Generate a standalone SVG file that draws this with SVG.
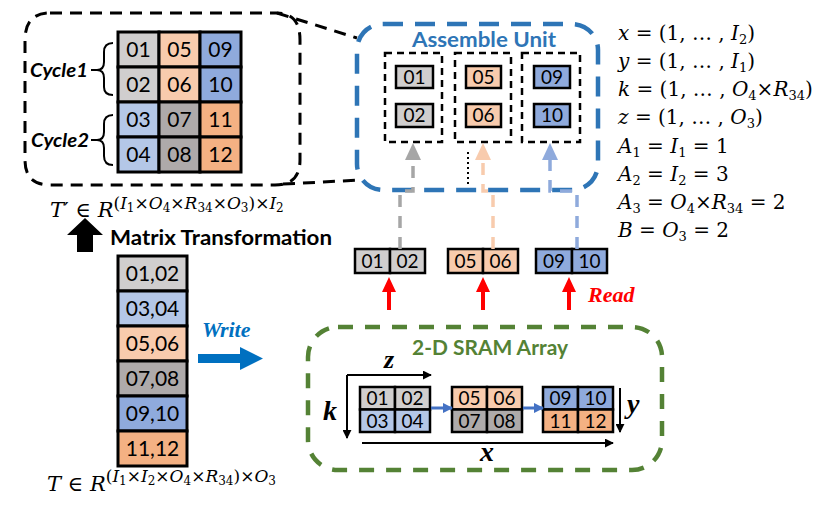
<svg xmlns="http://www.w3.org/2000/svg" width="830" height="513" viewBox="0 0 830 513">
<defs>
<marker id="ah" viewBox="0 0 10 10" refX="9" refY="5" markerWidth="4.5" markerHeight="4.5" orient="auto"><path d="M0,0 L10,5 L0,10 z" fill="#000"/></marker>
<marker id="ahb" viewBox="0 0 10 10" refX="9" refY="5" markerWidth="3.5" markerHeight="3.5" orient="auto"><path d="M0,0 L10,5 L0,10 z" fill="#4472C4"/></marker>
</defs>
<style>
.c{stroke:#000;stroke-width:3}
.cs{stroke:#000;stroke-width:2.5}
.n{font-family:Lato,"Liberation Sans",sans-serif;font-size:21px;text-anchor:middle;fill:#000}
.ns{font-family:Lato,"Liberation Sans",sans-serif;font-size:19px;text-anchor:middle;fill:#000}
.g1{fill:#D0CECE}.lb{fill:#B4C7E7}.lo{fill:#F8CBAD}.dg{fill:#AEAAAA}.bl{fill:#8FAADC}.or{fill:#F4B183}
.m{font-family:"DejaVu Serif","Liberation Serif",serif;font-size:20px;fill:#000}
.it{font-style:italic}
.sb{font-size:13px}
.sp{font-size:17px}
.ss{font-size:12px}
.lbl{font-family:Lato,"Liberation Sans",sans-serif;font-weight:bold}
.ax{font-family:"Liberation Serif",serif;font-weight:bold;font-style:italic;fill:#000}
.dbox{fill:none;stroke:#000;stroke-width:2.5;stroke-dasharray:7 5}
</style>

<g id="zoom-box">
<path d="M50,13 H277 Q300,13 300,40 V160 Q300,185 275,185 H50 Q25,185 25,160 V40 Q25,13 50,13 Z" fill="none" stroke="#000" stroke-width="3" stroke-dasharray="12 8"/>
<line x1="277" y1="13" x2="357" y2="38" stroke="#000" stroke-width="3" stroke-dasharray="12 8"/>
<line x1="283" y1="184" x2="362" y2="180" stroke="#000" stroke-width="3" stroke-dasharray="12 8"/>
</g>

<g id="cycle-grid">
<rect x="118" y="32" width="41" height="35" class="g1 c"/><rect x="159" y="32" width="41" height="35" class="lo c"/><rect x="200" y="32" width="41" height="35" class="bl c"/>
<rect x="118" y="67" width="41" height="35" class="g1 c"/><rect x="159" y="67" width="41" height="35" class="lo c"/><rect x="200" y="67" width="41" height="35" class="bl c"/>
<rect x="118" y="102" width="41" height="35" class="lb c"/><rect x="159" y="102" width="41" height="35" class="dg c"/><rect x="200" y="102" width="41" height="35" class="or c"/>
<rect x="118" y="137" width="41" height="35" class="lb c"/><rect x="159" y="137" width="41" height="35" class="dg c"/><rect x="200" y="137" width="41" height="35" class="or c"/>
<text class="n" x="138.5" y="57">01</text><text class="n" x="179.5" y="57">05</text><text class="n" x="220.5" y="57">09</text>
<text class="n" x="138.5" y="92">02</text><text class="n" x="179.5" y="92">06</text><text class="n" x="220.5" y="92">10</text>
<text class="n" x="138.5" y="127">03</text><text class="n" x="179.5" y="127">07</text><text class="n" x="220.5" y="127">11</text>
<text class="n" x="138.5" y="162">04</text><text class="n" x="179.5" y="162">08</text><text class="n" x="220.5" y="162">12</text>
</g>

<g id="cycle1">
<text class="lbl" x="30" y="77" font-size="19" font-style="italic" textLength="58" lengthAdjust="spacingAndGlyphs">Cycle1</text>
<path d="M113,43 Q104,43 104,52 V62 Q104,70 97,70 Q104,70 104,78 V87 Q104,95 113,95" fill="none" stroke="#000" stroke-width="2"/>
<line x1="91" y1="70" x2="98" y2="70" stroke="#000" stroke-width="2"/>
</g>
<g id="cycle2">
<text class="lbl" x="31" y="147" font-size="19" font-style="italic" textLength="58" lengthAdjust="spacingAndGlyphs">Cycle2</text>
<path d="M113,115 Q104,115 104,124 V132 Q104,140 97,140 Q104,140 104,148 V156 Q104,165 113,165" fill="none" stroke="#000" stroke-width="2"/>
<line x1="91" y1="140" x2="98" y2="140" stroke="#000" stroke-width="2"/>
</g>

<g id="t-prime">
<text class="m" x="50" y="217" font-size="21"><tspan class="it" font-size="21">T</tspan><tspan font-size="21">′ ∈ </tspan><tspan class="it" font-size="21">R</tspan><tspan class="sp" dy="-8">(</tspan><tspan class="sp it">I</tspan><tspan class="ss" dy="3">1</tspan><tspan class="sp" dy="-3">×</tspan><tspan class="sp it">O</tspan><tspan class="ss" dy="3">4</tspan><tspan class="sp" dy="-3">×</tspan><tspan class="sp it">R</tspan><tspan class="ss" dy="3">34</tspan><tspan class="sp" dy="-3">×</tspan><tspan class="sp it">O</tspan><tspan class="ss" dy="3">3</tspan><tspan class="sp" dy="-3">)×</tspan><tspan class="sp it">I</tspan><tspan class="ss" dy="3">2</tspan></text>
</g>

<g id="matrix-transformation">
<polygon points="85,218 103,235 93,235 93,252 77,252 77,235 67,235" fill="#000"/>
<text class="lbl" x="110" y="245" font-size="20" textLength="222" lengthAdjust="spacingAndGlyphs">Matrix Transformation</text>
</g>

<g id="column-t">
<rect x="118" y="256" width="69" height="35" class="g1 c"/>
<rect x="118" y="291" width="69" height="35" class="lb c"/>
<rect x="118" y="326" width="69" height="35" class="lo c"/>
<rect x="118" y="361" width="69" height="35" class="dg c"/>
<rect x="118" y="396" width="69" height="35" class="bl c"/>
<rect x="118" y="431" width="69" height="35" class="or c"/>
<text class="n" x="152.5" y="281">01,02</text>
<text class="n" x="152.5" y="316">03,04</text>
<text class="n" x="152.5" y="351">05,06</text>
<text class="n" x="152.5" y="386">07,08</text>
<text class="n" x="152.5" y="421">09,10</text>
<text class="n" x="152.5" y="456">11,12</text>
</g>

<g id="t-formula">
<text class="m" x="47" y="491" font-size="21"><tspan class="it" font-size="21">T</tspan><tspan font-size="21"> ∈ </tspan><tspan class="it" font-size="21">R</tspan><tspan class="sp" dy="-9">(</tspan><tspan class="sp it">I</tspan><tspan class="ss" dy="3">1</tspan><tspan class="sp" dy="-3">×</tspan><tspan class="sp it">I</tspan><tspan class="ss" dy="3">2</tspan><tspan class="sp" dy="-3">×</tspan><tspan class="sp it">O</tspan><tspan class="ss" dy="3">4</tspan><tspan class="sp" dy="-3">×</tspan><tspan class="sp it">R</tspan><tspan class="ss" dy="3">34</tspan><tspan class="sp" dy="-3">)×</tspan><tspan class="sp it">O</tspan><tspan class="ss" dy="3">3</tspan></text>
</g>

<g id="write">
<text x="202" y="337" font-family="Liberation Serif, serif" font-weight="bold" font-style="italic" font-size="22" fill="#0070C0">Write</text>
<polygon points="198,354 240,354 240,347 263,358.5 240,370 240,363 198,363" fill="#0070C0"/>
</g>

<g id="assemble-unit">
<rect x="357" y="24" width="241" height="166" rx="26" fill="none" stroke="#2E75B6" stroke-width="4.5" stroke-dasharray="20 12"/>
<text class="lbl" x="484" y="47" font-size="21" fill="#2E75B6" text-anchor="middle" textLength="144" lengthAdjust="spacingAndGlyphs">Assemble Unit</text>
<rect x="385" y="53" width="57" height="89" class="dbox"/>
<rect x="455" y="53" width="56" height="89" class="dbox"/>
<rect x="522" y="53" width="58" height="89" class="dbox"/>
<rect x="396" y="66" width="37" height="22" class="g1 cs"/><rect x="396" y="104" width="37" height="23" class="g1 cs"/>
<rect x="466" y="66" width="35" height="22" class="lo cs"/><rect x="466" y="104" width="35" height="23" class="lo cs"/>
<rect x="534" y="66" width="36" height="22" class="bl cs"/><rect x="534" y="104" width="36" height="23" class="bl cs"/>
<text class="ns" x="414.5" y="84">01</text><text class="ns" x="414.5" y="122">02</text>
<text class="ns" x="483.5" y="84">05</text><text class="ns" x="483.5" y="122">06</text>
<text class="ns" x="552" y="84">09</text><text class="ns" x="552" y="122">10</text>
</g>

<g id="formulas">
<text class="m" x="618" y="40"><tspan class="it">x</tspan> = (1, … , <tspan class="it">I</tspan><tspan class="sb" dy="4">2</tspan><tspan dy="-4">)</tspan></text>
<text class="m" x="618" y="68"><tspan class="it">y</tspan> = (1, … , <tspan class="it">I</tspan><tspan class="sb" dy="4">1</tspan><tspan dy="-4">)</tspan></text>
<text class="m" x="618" y="96"><tspan class="it">k</tspan> = (1, … , <tspan class="it">O</tspan><tspan class="sb" dy="4">4</tspan><tspan dy="-4">×</tspan><tspan class="it">R</tspan><tspan class="sb" dy="4">34</tspan><tspan dy="-4">)</tspan></text>
<text class="m" x="618" y="124"><tspan class="it">z</tspan> = (1, … , <tspan class="it">O</tspan><tspan class="sb" dy="4">3</tspan><tspan dy="-4">)</tspan></text>
<text class="m" x="618" y="153"><tspan class="it">A</tspan><tspan class="sb" dy="4">1</tspan><tspan dy="-4"> = </tspan><tspan class="it">I</tspan><tspan class="sb" dy="4">1</tspan><tspan dy="-4"> = 1</tspan></text>
<text class="m" x="618" y="181"><tspan class="it">A</tspan><tspan class="sb" dy="4">2</tspan><tspan dy="-4"> = </tspan><tspan class="it">I</tspan><tspan class="sb" dy="4">2</tspan><tspan dy="-4"> = 3</tspan></text>
<text class="m" x="618" y="209"><tspan class="it">A</tspan><tspan class="sb" dy="4">3</tspan><tspan dy="-4"> = </tspan><tspan class="it">O</tspan><tspan class="sb" dy="4">4</tspan><tspan dy="-4">×</tspan><tspan class="it">R</tspan><tspan class="sb" dy="4">34</tspan><tspan dy="-4"> = 2</tspan></text>
<text class="m" x="618" y="237"><tspan class="it">B</tspan> = <tspan class="it">O</tspan><tspan class="sb" dy="4">3</tspan><tspan dy="-4"> = 2</tspan></text>
</g>

<g id="read-buffers">
<rect x="355" y="249" width="35" height="24" class="g1 cs"/><rect x="390" y="249" width="35" height="24" class="g1 cs"/>
<rect x="448" y="249" width="35" height="24" class="lo cs"/><rect x="483" y="249" width="35" height="24" class="lo cs"/>
<rect x="536" y="249" width="36" height="24" class="bl cs"/><rect x="572" y="249" width="35" height="24" class="bl cs"/>
<text class="ns" x="372.5" y="268">01</text><text class="ns" x="407.5" y="268">02</text>
<text class="ns" x="465.5" y="268">05</text><text class="ns" x="500.5" y="268">06</text>
<text class="ns" x="554" y="268">09</text><text class="ns" x="589.5" y="268">10</text>
</g>

<g id="read">
<text x="588" y="302" font-family="Liberation Serif, serif" font-weight="bold" font-style="italic" font-size="22" fill="#FF0000">Read</text>
</g>

<g id="sram-array">
<rect x="308" y="327" width="354" height="143" rx="30" fill="none" stroke="#548235" stroke-width="4.5" stroke-dasharray="15 12"/>
<text class="lbl" x="412" y="355" font-size="20" fill="#548235" textLength="156" lengthAdjust="spacingAndGlyphs">2-D SRAM Array</text>
<rect x="360" y="387" width="35" height="22.5" class="g1 cs"/><rect x="395" y="387" width="35" height="22.5" class="g1 cs"/>
<rect x="360" y="409.5" width="35" height="22.5" class="lb cs"/><rect x="395" y="409.5" width="35" height="22.5" class="lb cs"/>
<rect x="452" y="387" width="35" height="22.5" class="lo cs"/><rect x="487" y="387" width="35" height="22.5" class="lo cs"/>
<rect x="452" y="409.5" width="35" height="22.5" class="dg cs"/><rect x="487" y="409.5" width="35" height="22.5" class="dg cs"/>
<rect x="543" y="387" width="35" height="22.5" class="bl cs"/><rect x="578" y="387" width="35" height="22.5" class="bl cs"/>
<rect x="543" y="409.5" width="35" height="22.5" class="or cs"/><rect x="578" y="409.5" width="35" height="22.5" class="or cs"/>
<text class="ns" x="377.5" y="405">01</text><text class="ns" x="412.5" y="405">02</text>
<text class="ns" x="377.5" y="428">03</text><text class="ns" x="412.5" y="428">04</text>
<text class="ns" x="469.5" y="405">05</text><text class="ns" x="504.5" y="405">06</text>
<text class="ns" x="469.5" y="428">07</text><text class="ns" x="504.5" y="428">08</text>
<text class="ns" x="560.5" y="405">09</text><text class="ns" x="595.5" y="405">10</text>
<text class="ns" x="560.5" y="428">11</text><text class="ns" x="595.5" y="428">12</text>
<text class="ax" x="384" y="368" font-size="26">z</text>
<text class="ax" x="323" y="420" font-size="28">k</text>
<text class="ax" x="480" y="461" font-size="28">x</text>
<text class="ax" x="627" y="413" font-size="28">y</text>
</g>

<g id="connectors">
<path d="M400,249 V191 H413 V158" fill="none" stroke="#A6A6A6" stroke-width="3.5" stroke-dasharray="12 9"/>
<polygon points="413,143 421,160 405,160" fill="#A6A6A6"/>
<path d="M493,249 V191 H483 V158" fill="none" stroke="#F8CBAD" stroke-width="3.5" stroke-dasharray="12 9"/>
<polygon points="483,143 491,160 475,160" fill="#F8CBAD"/>
<path d="M577,249 V191 H550 V158" fill="none" stroke="#8FAADC" stroke-width="3.5" stroke-dasharray="12 9"/>
<polygon points="550,143 558,160 542,160" fill="#8FAADC"/>
<line x1="468" y1="152" x2="468" y2="186" stroke="#000" stroke-width="2" stroke-dasharray="2 3"/>
<path d="M387,310 V292 H382 L389,277 L396,292 H391 V310 Z" fill="#FF0000"/>
<path d="M481,310 V292 H476 L483,277 L490,292 H485 V310 Z" fill="#FF0000"/>
<path d="M567,310 V292 H562 L569,277 L576,292 H571 V310 Z" fill="#FF0000"/>
<line x1="347" y1="375" x2="431" y2="375" stroke="#000" stroke-width="2" marker-end="url(#ah)"/>
<line x1="347" y1="375" x2="347" y2="438" stroke="#000" stroke-width="2" marker-end="url(#ah)"/>
<line x1="362" y1="443" x2="613" y2="443" stroke="#000" stroke-width="2" marker-end="url(#ah)"/>
<line x1="620" y1="388" x2="620" y2="432" stroke="#000" stroke-width="2" marker-end="url(#ah)"/>
<line x1="431" y1="408" x2="452" y2="408" stroke="#4472C4" stroke-width="3" marker-end="url(#ahb)"/>
<line x1="523" y1="408" x2="543" y2="408" stroke="#4472C4" stroke-width="3" marker-end="url(#ahb)"/>
</g>
</svg>
